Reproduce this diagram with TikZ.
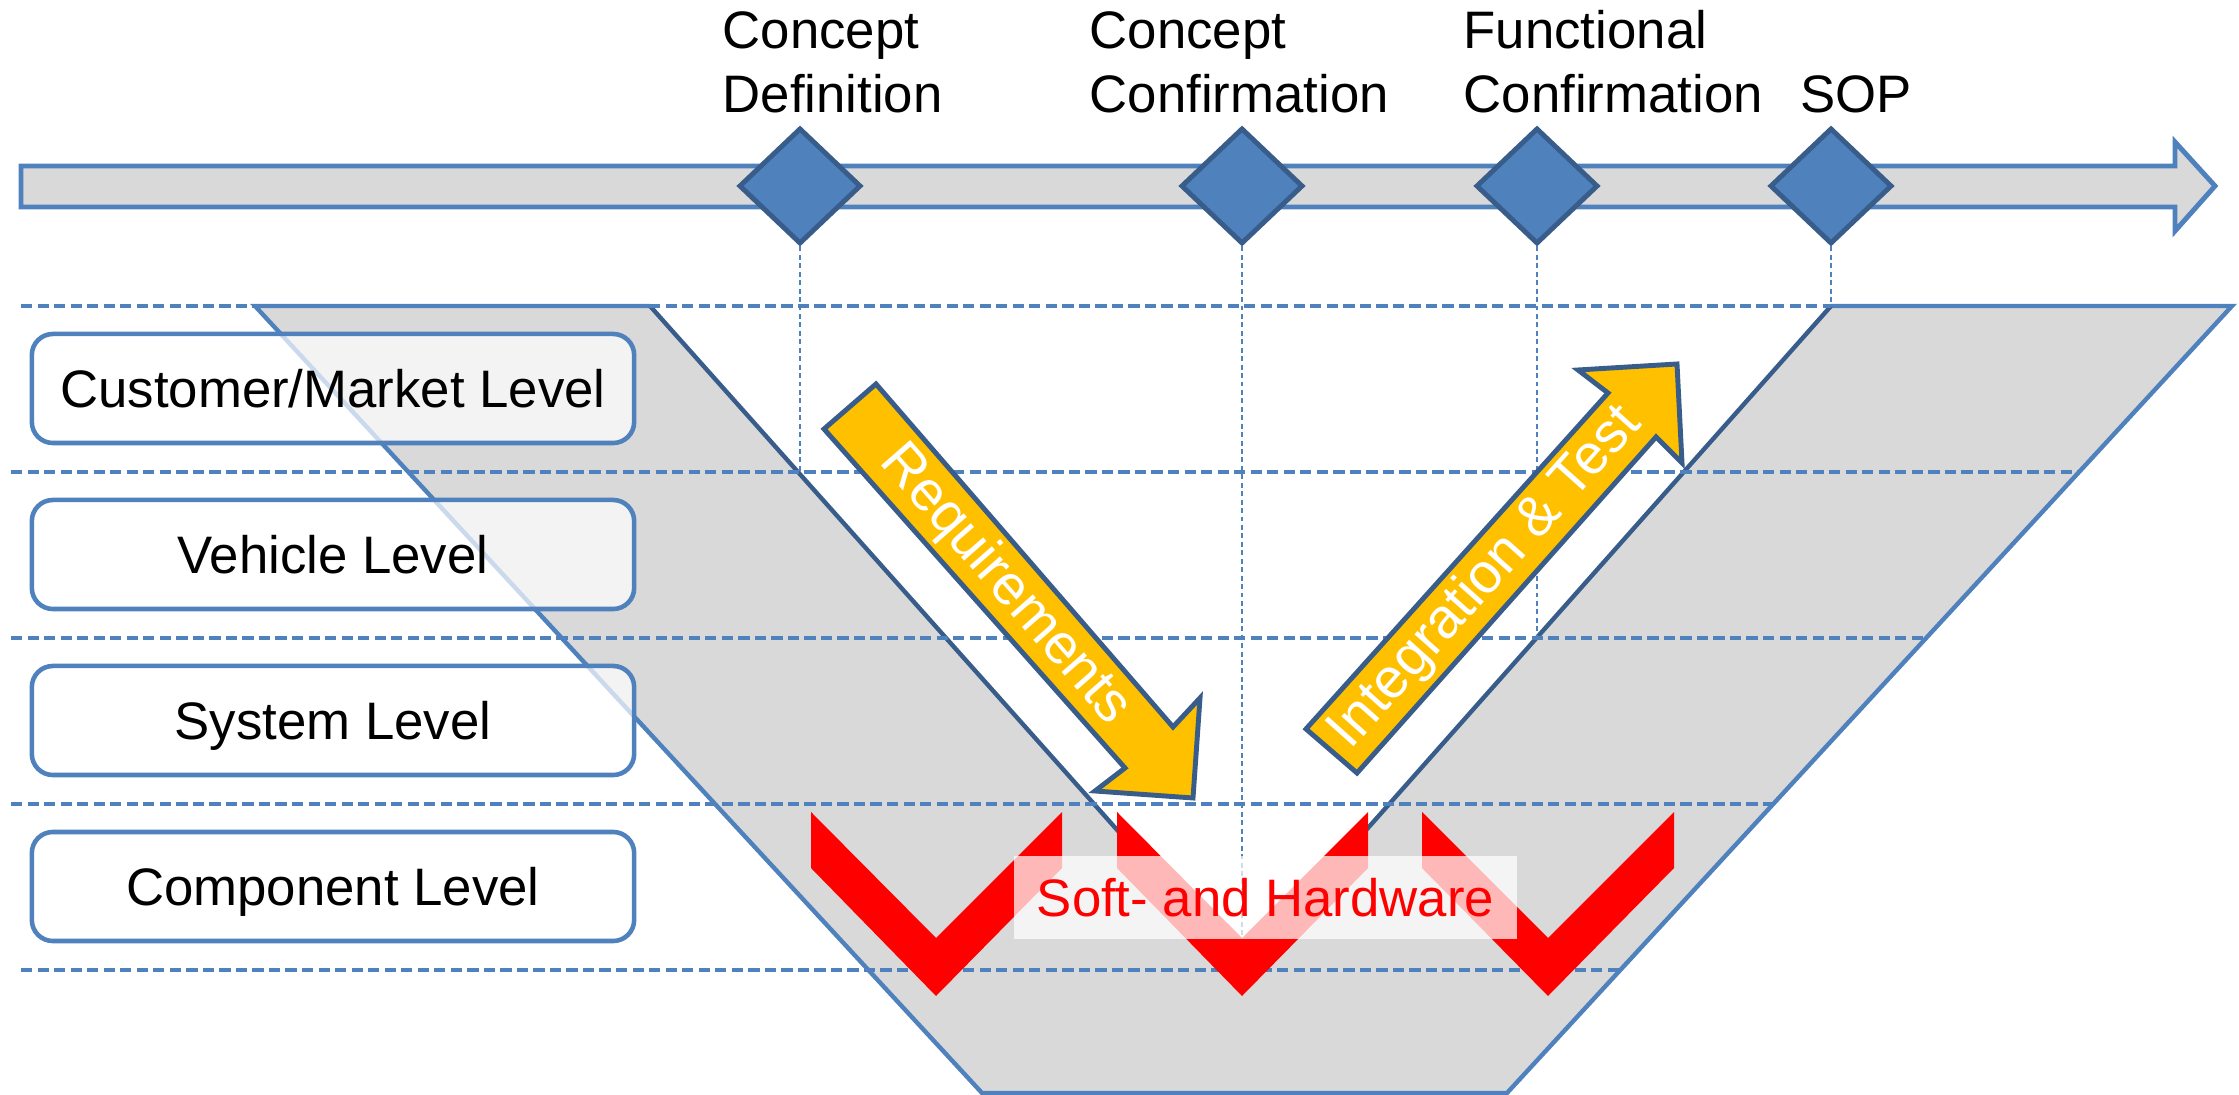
\documentclass[tikz,border=0pt]{standalone}
\usepackage{fontspec}
\setmainfont{Liberation Sans}
\usetikzlibrary{shapes.geometric}
\definecolor{vblue}{HTML}{4F81BD}
\definecolor{vdark}{HTML}{385D8A}
\definecolor{vgray}{HTML}{D9D9D9}
\definecolor{vyellow}{HTML}{FFC000}

\begin{document}
\begin{tikzpicture}[x=0.01cm,y=-0.01cm,
  txt/.style={font=\fontsize{15}{18}\selectfont},
  lvl/.style={txt, draw=vblue, line width=1.3pt, rounded corners=6pt,
    fill=white, fill opacity=0.7, text opacity=1,
    minimum width=6.02cm, minimum height=1.09cm, inner sep=0pt,
    text height=10.8pt, text depth=0pt},
  gate/.style={diamond, draw=vdark, fill=vblue, line width=1.4pt,
    minimum width=1.22cm, minimum height=1.16cm, inner sep=0pt},
  lane/.style={vblue, line width=1.1pt, dash pattern=on 3.2pt off 1.5pt},
  guide/.style={vblue, line width=0.45pt, dash pattern=on 1.4pt off 1pt},
  phase/.style={draw=vdark, fill=vyellow, line width=1.4pt, line join=miter},
  phasetext/.style={font=\fontsize{16}{19}\selectfont, text=white, inner sep=0pt},
  lbl/.style={txt, anchor=base west, inner sep=0pt},
  chev/.style={fill=red},
]
\useasboundingbox (0,0) rectangle (2239,1095);

% V-model body
\fill[vgray] (255,306) -- (650,306) -- (1242,970) -- (1831,306) -- (2232,306)
  -- (1507,1093) -- (982,1093) -- cycle;
\draw[vblue, line width=1.25pt, line join=miter] (650,306) -- (255,306) -- (982,1093)
  -- (1507,1093) -- (2232,306) -- (1831,306);
\draw[vdark, line width=1.25pt, line join=miter] (650,306) -- (1242,970) -- (1831,306);

% level separators
\draw[lane] (21,306) -- (1831,306);
\draw[lane] (11,472) -- (2080,472);
\draw[lane] (11,638) -- (1927,638);
\draw[lane] (11,804) -- (1775,804);
\draw[lane] (21,970) -- (1622,970);

% time line
\draw[vblue, fill=vgray, line width=1.4pt, line join=miter]
  (21,166) -- (2175,166) -- (2175,142) -- (2215,186) -- (2175,231)
  -- (2175,207) -- (21,207) -- cycle;

% milestones
\node[gate] (g1) at (800,186) {};
\node[gate] (g2) at (1242,186) {};
\node[gate] (g3) at (1537,186) {};
\node[gate] (g4) at (1831,186) {};

\node[lbl] (t1a) at (722,48.6) {Concept};
\node[lbl] (t1b) at (722,113) {Definition};
\node[lbl] (t2a) at (1089,48.6) {Concept};
\node[lbl] (t2b) at (1089,113) {Confirmation};
\node[lbl] (t3a) at (1463,48.6) {Functional};
\node[lbl] (t3b) at (1463,113) {Confirmation};
\node[lbl] (t4) at (1800,113) {SOP};

\coordinate (e1) at (800,472);
\coordinate (e2) at (1242,990);
\coordinate (e3) at (1537,638);
\coordinate (e4) at (1831,306);
\draw[guide] (g1.south) -- (e1);
\draw[guide] (g2.south) -- (e2);
\draw[guide] (g3.south) -- (e3);
\draw[guide] (g4.south) -- (e4);

% levels
\node[lvl] (l1) at (333,388.5) {Customer/Market Level};
\node[lvl] (l2) at (333,554.5) {Vehicle Level};
\node[lvl] (l3) at (333,720.5) {System Level};
\node[lvl] (l4) at (333,886.5) {Component Level};

% phase arrows
\draw[phase] (824,429) -- (876,384) -- (1173,727) -- (1200,698) -- (1193,798)
  -- (1095,791) -- (1125,768) -- cycle;
\node[phasetext, rotate=-48.8] (req) at (1005,585) {Requirements};

\draw[phase] (1306,729) -- (1608,393) -- (1578,370) -- (1677,364) -- (1682,463)
  -- (1656,437) -- (1357,773) -- cycle;
\node[phasetext, rotate=48.2] (int) at (1486,578) {Integration \& Test};

% component iterations
\fill[chev] (811,812) -- (936,938) -- (1062,812) -- (1062,868) -- (936,996) -- (811,868) -- cycle;
\fill[chev] (1117,812) -- (1242,938) -- (1368,812) -- (1368,868) -- (1242,996) -- (1117,868) -- cycle;
\fill[chev] (1422,812) -- (1548,938) -- (1674,812) -- (1674,868) -- (1548,996) -- (1422,868) -- cycle;

\node[txt, fill=white, fill opacity=0.72, text opacity=1, text=red,
  minimum width=5.03cm, minimum height=0.83cm, inner sep=0pt]
  (sw) at (1265.5,897.5) {Soft- and Hardware};
\end{tikzpicture}
\end{document}
